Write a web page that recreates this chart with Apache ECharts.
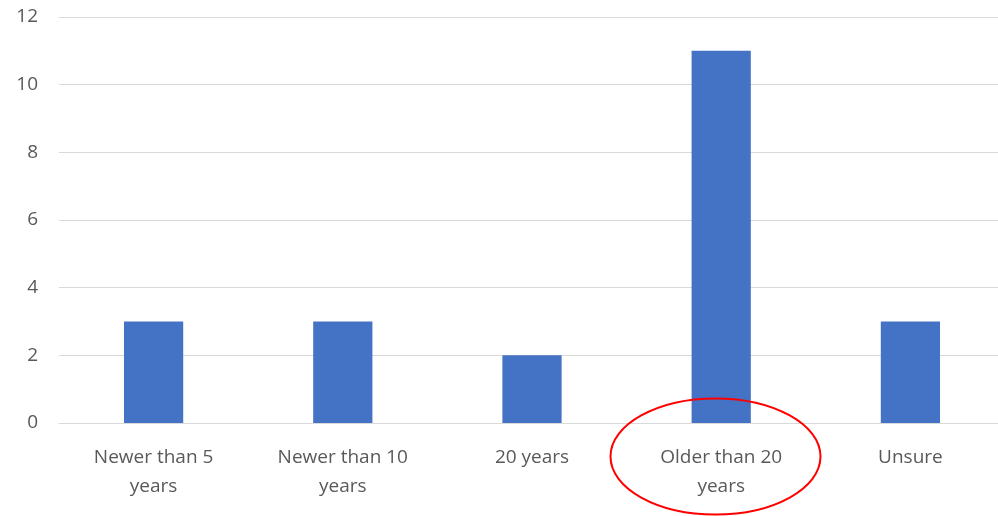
<!DOCTYPE html>
<html><head><meta charset="utf-8">
<script src="https://cdn.jsdelivr.net/npm/echarts@6/dist/echarts.min.js"></script>
<style>html,body{margin:0;padding:0;background:#fff;overflow:hidden;width:998px;height:516px}#c{width:1005px;height:516px}</style>
</head><body><div id="c"></div>
<script>
const categories = ["Newer than 5\nyears", "Newer than 10\nyears", "20 years", "Older than 20\nyears", "Unsure"];
const values = [3, 3, 2, 11, 3];
const yTicks = {min: 0, max: 12, interval: 2};

const chart = echarts.init(document.getElementById('c'), null, {renderer: 'canvas'});
const font = '"Open Sans", sans-serif';
chart.setOption({
  animation: false,
  grid: {left: 59, right: 0, top: 17, height: 406, containLabel: false},
  xAxis: {
    type: 'category', data: categories,
    axisLine: {show: true, lineStyle: {color: '#d9d9d9', width: 1}},
    axisTick: {show: false},
    axisLabel: {color: '#595959', fontSize: 19, fontFamily: font, lineHeight: 29, margin: 20, interval: 0}
  },
  yAxis: {
    type: 'value', min: yTicks.min, max: yTicks.max, interval: yTicks.interval,
    axisLine: {show: false}, axisTick: {show: false},
    splitLine: {lineStyle: {color: '#d9d9d9', width: 1}},
    axisLabel: {color: '#595959', fontSize: 19, fontFamily: font, margin: 21}
  },
  series: [{
    type: 'bar', data: values, barWidth: '31.3%',
    itemStyle: {color: '#4472c4'}
  }],
  graphic: [{
    type: 'ellipse', shape: {cx: 715.5, cy: 456.5, rx: 105, ry: 58},
    style: {fill: 'none', stroke: '#ff0000', lineWidth: 2}, z: 100
  }]
});
</script></body></html>
